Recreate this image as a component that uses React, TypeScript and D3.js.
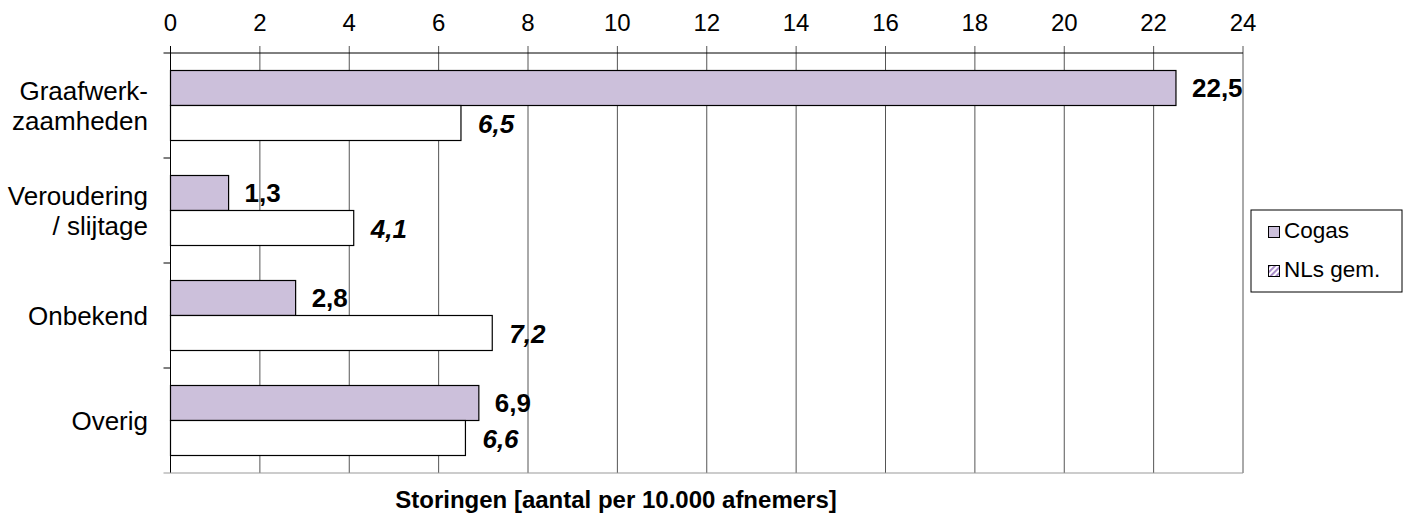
import { useEffect, useRef } from "react";
import * as d3 from "d3";

const categories = ["Graafwerk-\nzaamheden", "Veroudering\n/ slijtage", "Onbekend", "Overig"];
const cogasValues = [22.5, 1.3, 2.8, 6.9];
const nlValues = [6.5, 4.1, 7.2, 6.6];
const seriesNames = ["Cogas", "NLs gem."];
const xTicks = d3.range(0, 25, 2);
const axisTitle = "Storingen [aantal per 10.000 afnemers]";

const WIDTH = 1405;
const HEIGHT = 518;
const FONT = "'Liberation Sans', Arial, Helvetica, sans-serif";

export default function App() {
  const ref = useRef<SVGSVGElement>(null);

  useEffect(() => {
    const svg = d3.select(ref.current);
    svg.selectAll("*").remove();

    const left = 170.5;
    const right = 1243;
    const top = 53;
    const bottom = 473;

    const x = d3.scaleLinear().domain([0, 24]).range([left, right]);
    const y = d3.scaleBand().domain(categories).range([top, bottom]).padding(0);
    const inner = d3.scaleBand()
      .domain(["cogas", "nl"])
      .range([0, y.bandwidth()])
      .paddingInner(0)
      .paddingOuter(0.5);

    const defs = svg.append("defs");
    const pat = defs.append("pattern")
      .attr("id", "hatch")
      .attr("patternUnits", "userSpaceOnUse")
      .attr("width", 4)
      .attr("height", 4)
      .attr("patternTransform", "rotate(45)");
    pat.append("rect").attr("width", 4).attr("height", 4).attr("fill", "#fff");
    pat.append("rect").attr("width", 2).attr("height", 4).attr("fill", "#a98cc9");

    // gridlines + top ticks
    svg.append("g")
      .selectAll("line")
      .data(xTicks)
      .enter().append("line")
      .attr("x1", d => x(d))
      .attr("x2", d => x(d))
      .attr("y1", top - 7)
      .attr("y2", bottom)
      .attr("stroke", d => (d === 0 ? "#000" : "#555"))
      .attr("stroke-width", 1);

    // top axis line
    svg.append("line")
      .attr("x1", left - 7).attr("x2", right)
      .attr("y1", top).attr("y2", top)
      .attr("stroke", "#000");

    // bottom line
    svg.append("line")
      .attr("x1", left - 7).attr("x2", right)
      .attr("y1", bottom).attr("y2", bottom)
      .attr("stroke", "#999");

    // left ticks at category boundaries
    const bounds = categories.map(c => y(c) as number).concat([bottom]);
    svg.append("g")
      .selectAll("line")
      .data(bounds.slice(1, -1))
      .enter().append("line")
      .attr("x1", left - 7).attr("x2", left)
      .attr("y1", d => d).attr("y2", d => d)
      .attr("stroke", "#000");

    // tick labels
    svg.append("g")
      .selectAll("text")
      .data(xTicks)
      .enter().append("text")
      .attr("x", d => x(d))
      .attr("y", 31)
      .attr("text-anchor", "middle")
      .style("font-family", FONT)
      .style("font-size", "24px")
      .text(d => d);

    // category labels
    categories.forEach(c => {
      const lines = c.split("\n");
      const cy = (y(c) as number) + y.bandwidth() / 2;
      const lh = 30;
      const t = svg.append("text")
        .attr("text-anchor", "end")
        .style("font-family", FONT)
        .style("font-size", "26px");
      lines.forEach((ln, i) => {
        t.append("tspan")
          .attr("x", 148)
          .attr("y", cy + 9 + (i - (lines.length - 1) / 2) * lh)
          .text(ln);
      });
    });

    // bars
    const rows = categories.map((c, i) => ({ c, cogas: cogasValues[i], nl: nlValues[i] }));
    const g = svg.append("g");
    rows.forEach(r => {
      const y0 = y(r.c) as number;
      g.append("rect")
        .attr("x", x(0))
        .attr("y", y0 + (inner("cogas") as number))
        .attr("width", x(r.cogas) - x(0))
        .attr("height", inner.bandwidth())
        .attr("fill", "#ccc0db")
        .attr("stroke", "#000")
        .attr("stroke-width", 1.2);
      g.append("rect")
        .attr("x", x(0))
        .attr("y", y0 + (inner("nl") as number))
        .attr("width", x(r.nl) - x(0))
        .attr("height", inner.bandwidth())
        .attr("fill", "#fff")
        .attr("stroke", "#000")
        .attr("stroke-width", 1.2);

      g.append("text")
        .attr("x", x(r.cogas) + 16)
        .attr("y", y0 + (inner("cogas") as number) + inner.bandwidth() / 2 + 9)
        .style("font-family", FONT)
        .style("font-size", "26px")
        .style("font-weight", "bold")
        .text(String(r.cogas).replace(".", ","));
      g.append("text")
        .attr("x", x(r.nl) + 17)
        .attr("y", y0 + (inner("nl") as number) + inner.bandwidth() / 2 + 10)
        .style("font-family", FONT)
        .style("font-size", "26px")
        .style("font-weight", "bold")
        .style("font-style", "italic")
        .text(String(r.nl).replace(".", ","));
    });

    // axis title
    svg.append("text")
      .attr("x", 616)
      .attr("y", 508)
      .attr("text-anchor", "middle")
      .style("font-family", FONT)
      .style("font-size", "24px")
      .style("font-weight", "bold")
      .text(axisTitle);

    // legend
    const lg = svg.append("g").attr("transform", "translate(1251,210)");
    lg.append("rect")
      .attr("width", 151).attr("height", 82)
      .attr("fill", "#fff").attr("stroke", "#000").attr("stroke-width", 1);
    seriesNames.forEach((name, i) => {
      const row = lg.append("g").attr("transform", `translate(0,${i * 39})`);
      row.append("rect")
        .attr("x", 17.5).attr("y", 16.5)
        .attr("width", 11).attr("height", 11)
        .attr("fill", i === 0 ? "#ccc0db" : "url(#hatch)")
        .attr("stroke", "#000").attr("stroke-width", 1);
      row.append("text")
        .attr("x", 33)
        .attr("y", 28)
        .style("font-family", FONT)
        .style("font-size", "22.5px")
        .text(name);
    });
  }, []);

  return (
    <svg
      ref={ref}
      width={WIDTH}
      height={HEIGHT}
      style={{ position: "absolute", left: 0, top: 0, background: "#fff" }}
    />
  );
}
